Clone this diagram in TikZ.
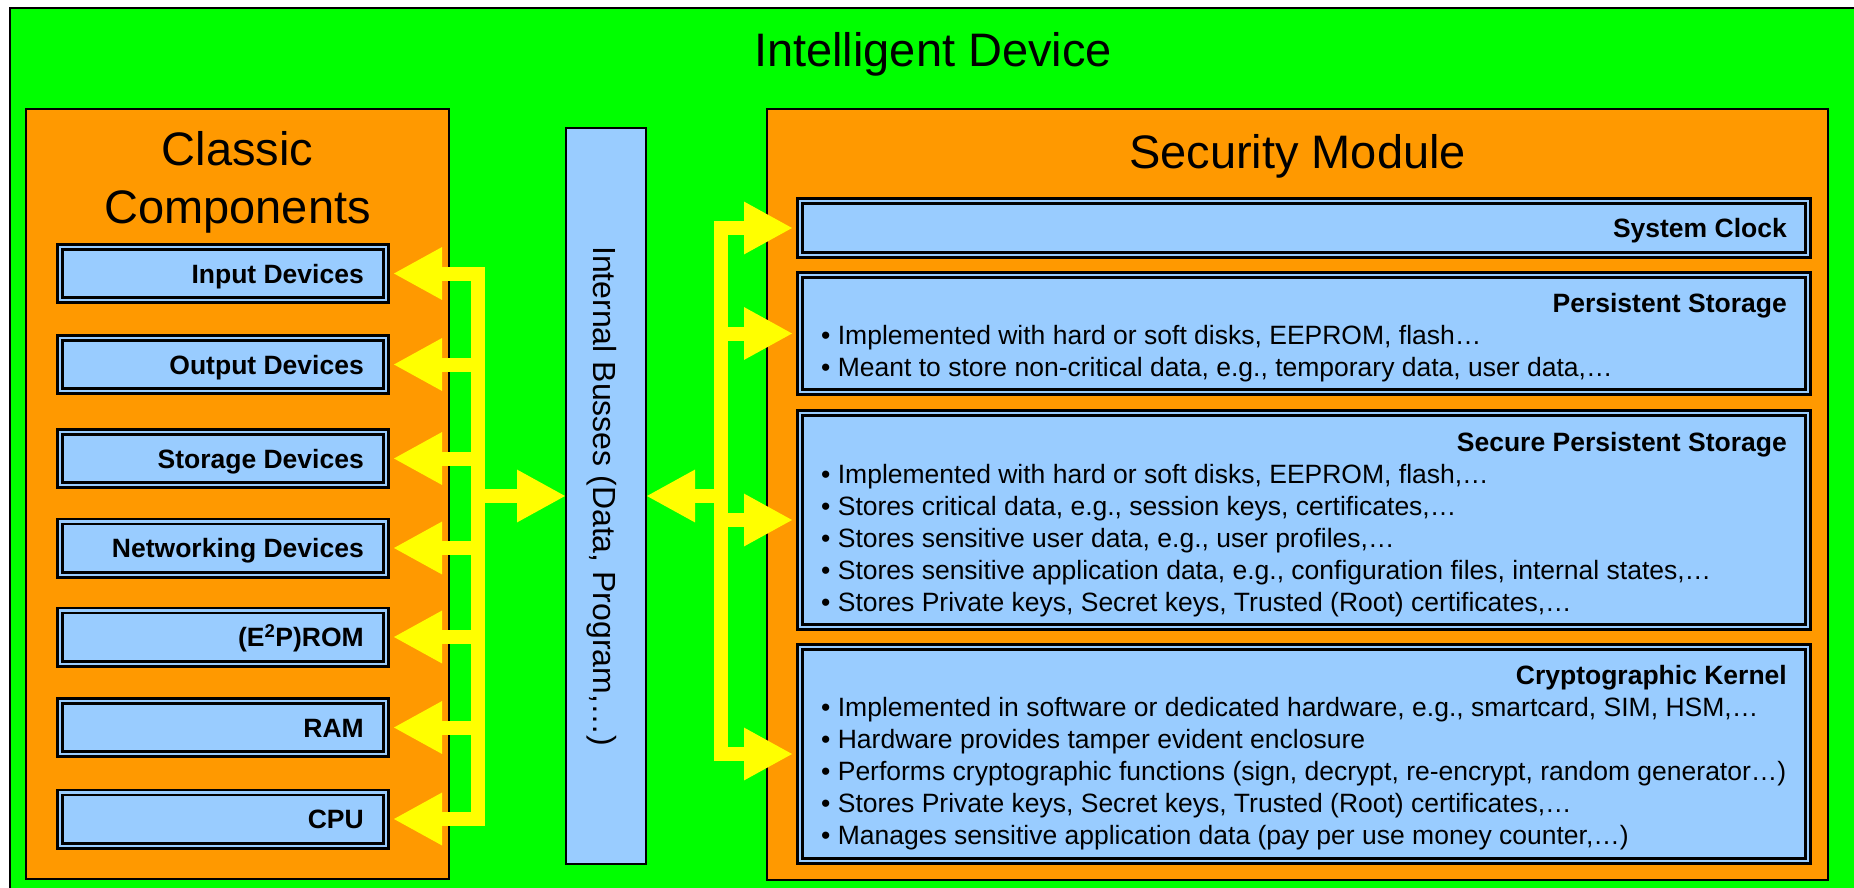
\documentclass[tikz,border=0pt]{standalone}
\usepackage{fontspec}
\setmainfont{Liberation Sans}
\usetikzlibrary{arrows.meta}

\definecolor{devgreen}{HTML}{00FF00}
\definecolor{modorange}{HTML}{FF9900}
\definecolor{partblue}{HTML}{99CCFF}
\definecolor{busyellow}{HTML}{FFFF00}

\begin{document}
\begin{tikzpicture}[x=1pt, y=-1pt,
  frame/.style={draw=black, line width=2.5pt, fill=devgreen, inner sep=0pt, outer sep=0pt},
  holder/.style={draw=black, line width=2pt, fill=modorange, inner sep=0pt, outer sep=0pt},
  part/.style={draw=black, line width=2.6pt, double=partblue, double distance=2.4pt,
               fill=partblue, inner sep=0pt, outer sep=6.8pt},
  busbox/.style={draw=black, line width=1.5pt, fill=partblue, inner sep=0pt, outer sep=0pt},
  heading/.style={inner sep=0pt, anchor=base, font=\fontsize{47}{56}\selectfont},
  partname/.style={inner sep=0pt, anchor=base east, font=\bfseries\fontsize{26.5}{31}\selectfont},
  note/.style={inner sep=0pt, anchor=base west, font=\fontsize{26.5}{32}\selectfont},
  spine/.style={draw=busyellow, line width=14pt, line cap=rect},
  feed/.style={draw=busyellow, line width=14pt, -{Triangle[length=49pt,width=49pt]}},
]
\useasboundingbox (0,0) rectangle (1854,888);
\clip (0,0) rectangle (1854,888);

% device frame
\node[frame, minimum width=1847pt, minimum height=885pt] (device) at (933.5,450.5) {};
\node[heading] (device-t) at (933,67) {Intelligent Device};

% classic components
\node[holder, minimum width=423pt, minimum height=770pt] (classic) at (237.5,494) {};
\node[heading] (classic-t1) at (237.5,165) {Classic};
\node[heading] (classic-t2) at (237.5,223) {Components};

\foreach \n/\y/\t in {inp/273.5/Input Devices, outp/364.5/Output Devices,
    stor/458.5/Storage Devices, netw/548/Networking Devices,
    rom/637/(E\textsuperscript{2}P)ROM, ram/727.5/RAM, cpu/819/CPU}{
  \node[part, minimum width=326.4pt, minimum height=53.4pt] (\n) at (223,\y) {};
  \node[partname] (\n-t) at (364,\y+9.5) {\t};
}

% security module
\node[holder, minimum width=1061pt, minimum height=771pt] (secmod) at (1297.5,494.5) {};
\node[heading] (secmod-t) at (1297.5,168) {Security Module};

\node[part, minimum width=1008.4pt, minimum height=54.4pt] (clk) at (1304,228) {};
\node[part, minimum width=1008.4pt, minimum height=117.4pt] (pst) at (1304,333.5) {};
\node[part, minimum width=1008.4pt, minimum height=214.4pt] (sps) at (1304,520) {};
\node[part, minimum width=1008.4pt, minimum height=214.4pt] (krn) at (1304,754) {};

\node[partname] (clk-t) at (1787,237) {System Clock};
\node[partname] (pst-t) at (1787,312) {Persistent Storage};
\node[partname] (sps-t) at (1787,451) {Secure Persistent Storage};
\node[partname] (krn-t) at (1787,684) {Cryptographic Kernel};

\foreach \t [count=\i] in {
    {Implemented with hard or soft disks, EEPROM, flash…},
    {Meant to store non-critical data, e.g., temporary data, user data,…}}
  \node[note] (pst-\i) at (821,312+32*\i) {• \t};

\foreach \t [count=\i] in {
    {Implemented with hard or soft disks, EEPROM, flash,…},
    {Stores critical data, e.g., session keys, certificates,…},
    {Stores sensitive user data, e.g., user profiles,…},
    {Stores sensitive application data, e.g., configuration files, internal states,…},
    {Stores Private keys, Secret keys, Trusted (Root) certificates,…}}
  \node[note] (sps-\i) at (821,451+32*\i) {• \t};

\foreach \t [count=\i] in {
    {Implemented in software or dedicated hardware, e.g., smartcard, SIM, HSM,…},
    {Hardware provides tamper evident enclosure},
    {Performs cryptographic functions (sign, decrypt, re-encrypt, random generator…)},
    {Stores Private keys, Secret keys, Trusted (Root) certificates,…},
    {Manages sensitive application data (pay per use money counter,…)}}
  \node[note] (krn-\i) at (821,684+32*\i) {• \t};

% internal busses
\node[busbox, minimum width=80pt, minimum height=736pt] (bus) at (606,496) {};
\node[rotate=-90, anchor=base, inner sep=0pt, font=\fontsize{32}{38}\selectfont]
  (bus-t) at (593,496) {Internal Busses (Data, Program,…)};

% bus lines towards the classic components
\coordinate (ls-top) at (478,273.5);
\coordinate (ls-bot) at (478,819);
\coordinate (ls-mid) at (478,496);
\draw[spine] (ls-top) -- (ls-bot);
\foreach \n/\y in {inp/273.5, outp/364.5, stor/458.5, netw/548, rom/637, ram/727.5, cpu/819}{
  \coordinate (lj-\n) at (478,\y);
  \draw[feed] (lj-\n) -- (\n.east);
}
\draw[feed] (ls-mid) -- (bus.west);

% bus lines towards the security module
\coordinate (rs-top) at (721,228);
\coordinate (rs-bot) at (721,754);
\coordinate (rs-pst) at (721,333.5);
\coordinate (rs-sps) at (721,520);
\coordinate (rs-mid) at (721,496);
\draw[spine] (rs-top) -- (rs-bot);
\draw[feed] (rs-top) -- (clk.west);
\draw[feed] (rs-pst) -- (pst.west);
\draw[feed] (rs-sps) -- (sps.west);
\draw[feed] (rs-bot) -- (krn.west);
\draw[feed] (rs-mid) -- (bus.east);
\end{tikzpicture}
\end{document}
